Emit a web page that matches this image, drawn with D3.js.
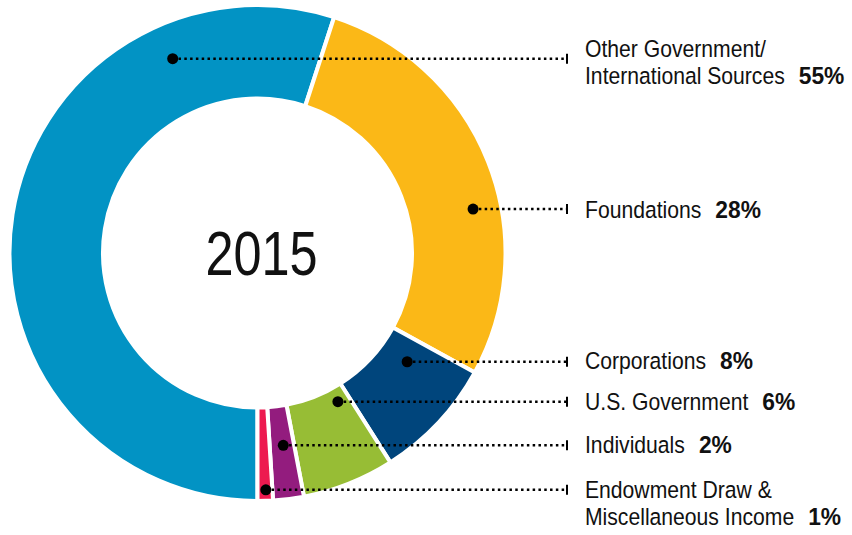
<!DOCTYPE html>
<html lang="en">
  <head>
    <meta charset="utf-8">
    <title>2015 revenue donut</title>
    <script type="text/javascript" src="https://cdn.jsdelivr.net/npm/d3@7"></script>
    <style type="text/css">
     body { margin: 0; background: #fff; }
     text { font-family: "Liberation Sans", Arial, sans-serif; }
    </style>
  </head>
  <body>
    <script type="text/javascript">

     // data ------------------------------------------------------------
     let categories = [["Other Government/", "International Sources"],
                       ["Foundations"],
                       ["Corporations"],
                       ["U.S. Government"],
                       ["Individuals"],
                       ["Endowment Draw &", "Miscellaneous Income"]];
     let shares = [55, 28, 8, 6, 2, 1];
     let pctLabels = ["55%", "28%", "8%", "6%", "2%", "1%"];
     let colors = ["#0293c4", "#fbb817", "#00457c", "#97bd35", "#931c7e", "#ed1a4f"];
     let centerLabel = "2015";

     // where the leader dot sits inside each slice (fraction of slice angle, radius)
     let dotT = [0.79, 0.60, 0.25, 0.185, 0.44, 0.44];
     let dotR = [212, 220, 185, 169, 194, 237];
     // baseline offset of the first label line from the leader line
     let firstLineDy = [-2, 9, 7, 8, 8, 8];

     let w = 852, h = 535;
     let cx = 257.5, cy = 253;
     let outerR = 248, innerR = 154.5;
     let lineEndX = 567, textX = 585;
     let sx = 0.9;           // squeeze the regular font to look condensed
     let psx = 0.97;
     let fs = 23.5, lineGap = 27;

     let svg = d3.select("body").append("svg")
                 .attr("width", w)
                 .attr("height", h)
                 .style("display", "block");

     let pie = d3.pie()
                 .sort(null)
                 .startAngle(Math.PI)
                 .endAngle(3 * Math.PI);
     let arcs = pie(shares);

     let arc = d3.arc()
                 .innerRadius(innerR)
                 .outerRadius(outerR);

     let g = svg.append("g").attr("transform", "translate(" + cx + "," + cy + ")");

     g.selectAll("path")
      .data(arcs)
      .enter()
      .append("path")
      .attr("d", arc)
      .attr("fill", (d, i) => colors[i])
      .attr("stroke", "#fff")
      .attr("stroke-width", 4)
      .attr("stroke-linejoin", "miter");

     g.append("text")
      .attr("transform", "translate(4,22) scale(0.8,1)")
      .attr("text-anchor", "middle")
      .attr("font-size", 63)
      .attr("fill", "#111")
      .text(centerLabel);

     // leader dots + lines + labels
     let anchors = arcs.map((d, i) => {
       let a = d.startAngle + dotT[i] * (d.endAngle - d.startAngle);
       return {x: cx + dotR[i] * Math.sin(a), y: cy - dotR[i] * Math.cos(a)};
     });

     svg.selectAll("line.leader")
        .data(anchors)
        .enter()
        .append("line")
        .attr("class", "leader")
        .attr("x1", d => d.x)
        .attr("x2", lineEndX)
        .attr("y1", d => d.y)
        .attr("y2", d => d.y)
        .attr("stroke", "#000")
        .attr("stroke-width", 2.5)
        .attr("stroke-dasharray", "2.5,3.3");

     svg.selectAll("line.tick")
        .data(anchors)
        .enter()
        .append("line")
        .attr("class", "tick")
        .attr("x1", lineEndX)
        .attr("x2", lineEndX)
        .attr("y1", d => d.y - 5)
        .attr("y2", d => d.y + 5)
        .attr("stroke", "#000")
        .attr("stroke-width", 2);

     svg.selectAll("circle.dot")
        .data(anchors)
        .enter()
        .append("circle")
        .attr("class", "dot")
        .attr("cx", d => d.x)
        .attr("cy", d => d.y)
        .attr("r", 5.5)
        .attr("fill", "#000");

     anchors.forEach((p, i) => {
       let lines = categories[i];
       let last, lastY;
       lines.forEach((t, j) => {
         lastY = p.y + firstLineDy[i] + j * lineGap;
         last = svg.append("text")
                   .attr("transform", "translate(" + textX + "," + lastY + ") scale(" + sx + ",1)")
                   .attr("font-size", fs)
                   .attr("fill", "#111")
                   .text(t);
       });
       let len = last.node().getComputedTextLength() * sx;
       svg.append("text")
          .attr("transform", "translate(" + (textX + len + 14) + "," + lastY + ") scale(" + psx + ",1)")
          .attr("font-size", fs)
          .attr("font-weight", "bold")
          .attr("fill", "#111")
          .text(pctLabels[i]);
     });
    </script>
  </body>
</html>
